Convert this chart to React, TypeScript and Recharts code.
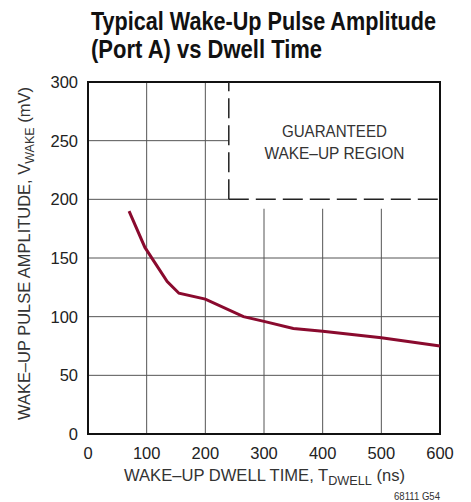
import { useLayoutEffect, useRef, useState } from 'react';
import {
    CartesianGrid,
    ComposedChart,
    Line,
    ReferenceArea,
    ReferenceLine,
    XAxis,
    YAxis
} from 'recharts';

// wake-up pulse amplitude (mV) vs dwell time (ns)
const dwellTimes = [70, 97, 135, 155, 200, 265, 300, 350, 400, 500, 600];
const amplitudes = [190, 159, 130, 120, 115, 100, 96, 90, 87.5, 82, 75];

const xTicks = [0, 100, 200, 300, 400, 500, 600];
const yTicks = [0, 50, 100, 150, 200, 250, 300];
const innerXTicks = [100, 200, 300, 400, 500];

// guaranteed wake-up region corner
const regionX = [240, 600];
const regionY = [200, 300];
const regionText = ['GUARANTEED', 'WAKE\u2013UP REGION'];

const titleLines = ['Typical Wake-Up Pulse Amplitude', '(Port A) vs Dwell Time'];

const FONT = '"Liberation Sans", Arial, sans-serif';
const LINE_COLOR = '#8a0a2e';

const data = dwellTimes.map((t, i) => ({ t, v: amplitudes[i] }));

// squeezes a bold title line to the condensed width of the original
const TitleLine = ({ x, y, width, text }: { x: number; y: number; width: number; text: string }) => {
    const ref = useRef<SVGTextElement>(null);
    const [scale, setScale] = useState(0.8);
    useLayoutEffect(() => {
        if (ref.current) {
            const natural = ref.current.getComputedTextLength();
            if (natural > 0) setScale(width / natural);
        }
    }, [width, text]);
    return (
        <text
            ref={ref}
            transform={`translate(${x}, ${y}) scale(${scale}, 1)`}
            fontFamily={FONT}
            fontWeight="bold"
            fontSize={25}
            fill="#111"
        >
            {text}
        </text>
    );
};

const RegionLabel = (props: any) => {
    const vb = props.viewBox || { x: 0, y: 0, width: 0, height: 0 };
    const cx = vb.x + vb.width / 2;
    const cy = vb.y + vb.height / 2;
    return (
        <g fontFamily={FONT} fontSize={17} fill="#333" textAnchor="middle">
            <text x={cx} y={cy - 8} textLength={105} lengthAdjust="spacingAndGlyphs">{regionText[0]}</text>
            <text x={cx} y={cy + 14} textLength={140} lengthAdjust="spacingAndGlyphs">{regionText[1]}</text>
        </g>
    );
};

const YLabel = () => (
    <text
        x={30}
        y={253.5}
        transform="rotate(-90, 30, 253.5)"
        textAnchor="middle"
        fontFamily={FONT}
        fontSize={17}
        fill="#333"
        textLength={333}
        lengthAdjust="spacingAndGlyphs"
    >
        <tspan>WAKE–UP PULSE AMPLITUDE, V</tspan>
        <tspan fontSize={13} dy={4}>WAKE</tspan>
        <tspan dy={-4}> (mV)</tspan>
    </text>
);

const XLabel = () => (
    <text
        x={264.5}
        y={481}
        textAnchor="middle"
        fontFamily={FONT}
        fontSize={17}
        fill="#333"
        textLength={281}
        lengthAdjust="spacingAndGlyphs"
    >
        <tspan>WAKE–UP DWELL TIME, T</tspan>
        <tspan fontSize={13} dy={4}>DWELL</tspan>
        <tspan dy={-4}> (ns)</tspan>
    </text>
);

export default function App() {
    const tickStyle = { fontFamily: FONT, fontSize: 16.5, fill: '#222' };
    return (
        <div style={{ position: 'absolute', left: 0, top: 0, width: 471, height: 502, background: '#fff' }}>
            <svg width={471} height={70} style={{ position: 'absolute', left: 0, top: 0 }}>
                <TitleLine x={91} y={30} width={345} text={titleLines[0]} />
                <TitleLine x={91} y={58} width={231} text={titleLines[1]} />
            </svg>
            <ComposedChart
                width={471}
                height={502}
                data={data}
                margin={{ top: 82, right: 31, bottom: 0, left: 0 }}
                style={{ position: 'absolute', left: 0, top: 0 }}
            >
                <CartesianGrid stroke="#555" strokeWidth={1} />
                <XAxis
                    dataKey="t"
                    type="number"
                    domain={[0, 600]}
                    ticks={xTicks}
                    height={68}
                    tickLine={false}
                    axisLine={false}
                    tickMargin={7}
                    tick={tickStyle}
                    label={{ content: () => <XLabel /> }}
                />
                <XAxis
                    xAxisId="top"
                    orientation="top"
                    type="number"
                    domain={[0, 600]}
                    ticks={innerXTicks}
                    height={1}
                    mirror
                    tick={false}
                    tickSize={7}
                    tickLine={{ stroke: '#555' }}
                    axisLine={false}
                />
                <YAxis
                    type="number"
                    domain={[0, 300]}
                    ticks={yTicks}
                    width={88}
                    tickLine={false}
                    axisLine={false}
                    tickMargin={4}
                    tick={tickStyle}
                    label={{ content: () => <YLabel /> }}
                />
                <ReferenceArea
                    x1={regionX[0]}
                    x2={regionX[1]}
                    y1={192}
                    y2={regionY[1]}
                    fill="#fff"
                    fillOpacity={1}
                    stroke="none"
                    label={<RegionLabel />}
                />
                <ReferenceLine
                    segment={[{ x: regionX[0], y: regionY[0] }, { x: regionX[0], y: regionY[1] }]}
                    stroke="#222"
                    strokeWidth={1.5}
                    strokeDasharray="20 7"
                />
                <ReferenceLine
                    segment={[{ x: regionX[0], y: regionY[0] }, { x: regionX[1], y: regionY[0] }]}
                    stroke="#222"
                    strokeWidth={1.5}
                    strokeDasharray="20 7"
                />
                <ReferenceArea
                    x1={0}
                    x2={600}
                    y1={0}
                    y2={300}
                    fill="none"
                    stroke="#111"
                    strokeWidth={2}
                />
                <Line
                    dataKey="v"
                    type="linear"
                    stroke={LINE_COLOR}
                    strokeWidth={3}
                    dot={false}
                    isAnimationActive={false}
                />
            </ComposedChart>
            <svg width={471} height={502} style={{ position: 'absolute', left: 0, top: 0, pointerEvents: 'none' }}>
                <text x={440} y={500} textAnchor="end" fontFamily={FONT} fontSize={10} fill="#333" textLength={46} lengthAdjust="spacingAndGlyphs">
                    68111 G54
                </text>
            </svg>
        </div>
    );
}
